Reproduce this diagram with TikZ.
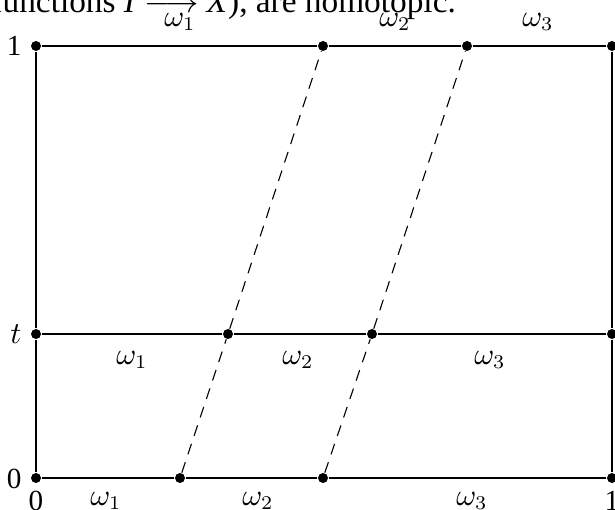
\documentclass[tikz,border=0pt]{standalone}
\usepackage{fontspec}
\setmainfont{Liberation Serif}
\begin{document}
\begin{tikzpicture}[x=0.36pt,y=-0.36pt,
  dot/.style={circle,fill=black,inner sep=0pt,minimum size=3.6pt},
  edge/.style={line width=0.9pt},
  slant/.style={line width=0.4pt,dash pattern=on 4pt off 3pt},
  lbl/.style={font=\fontsize{10.5}{12}\selectfont,inner sep=0pt}]
\useasboundingbox (0,0) rectangle (615,510);
% top text
\node[anchor=base west,inner sep=0pt,font=\fontsize{12}{14}\selectfont] (txt) at (-9,13)
  {functions \textit{I} $\longrightarrow$ \textit{X}), are homotopic.};
% dots
\node[dot] (b0) at (36,478) {};
\node[dot] (b1) at (180,478) {};
\node[dot] (b2) at (323,478) {};
\node[dot] (b3) at (612,478) {};
\node[dot] (m0) at (36,334) {};
\node[dot] (m1) at (228,334) {};
\node[dot] (m2) at (372,334) {};
\node[dot] (m3) at (612,334) {};
\node[dot] (t0) at (36,46) {};
\node[dot] (t1) at (323,46) {};
\node[dot] (t2) at (467,46) {};
\node[dot] (t3) at (612,46) {};
% edges
\draw[edge] (b0) -- (b1) -- (b2) -- (b3);
\draw[edge] (m0) -- (m1) -- (m2) -- (m3);
\draw[edge] (t0) -- (t1) -- (t2) -- (t3);
\draw[edge] (b0) -- (m0) -- (t0);
\draw[edge] (b3) -- (m3) -- (t3);
\draw[slant] (b1) -- (m1) -- (t1);
\draw[slant] (b2) -- (m2) -- (t2);
% side labels
\node[lbl,anchor=east] (l1) at (22,46) {1};
\node[lbl,anchor=east] (lt) at (22,334) {$t$};
\node[lbl,anchor=east] (l0) at (22,479) {0};
\node[lbl,anchor=base] (x0) at (36,510) {0};
\node[lbl,anchor=base] (x1) at (612,510) {1};
% omega labels
\node[lbl] (tw1) at (180,22) {$\omega_1$};
\node[lbl] (tw2) at (395,22) {$\omega_2$};
\node[lbl] (tw3) at (538,22) {$\omega_3$};
\node[lbl] (mw1) at (132,360) {$\omega_1$};
\node[lbl] (mw2) at (298,360) {$\omega_2$};
\node[lbl] (mw3) at (490,360) {$\omega_3$};
\node[lbl] (bw1) at (106,501) {$\omega_1$};
\node[lbl] (bw2) at (258,501) {$\omega_2$};
\node[lbl] (bw3) at (472,501) {$\omega_3$};
\end{tikzpicture}
\end{document}
